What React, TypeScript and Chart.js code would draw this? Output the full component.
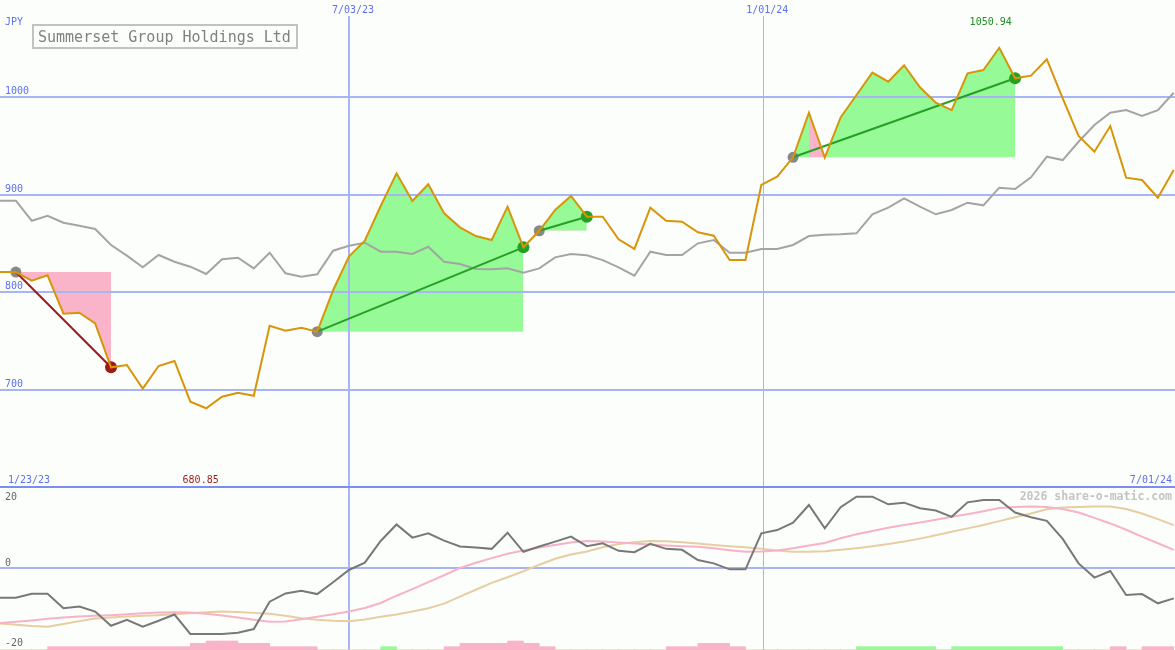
import React, { useEffect, useRef } from 'react';
import { Chart, registerables } from 'chart.js';
Chart.register(...registerables);

// ---------- data (weekly points, index 0 .. 74) ----------
const title = 'Summerset Group Holdings Ltd';
const currency = 'JPY';
const firstDateLabel = '1/23/23';
const lastDateLabel = '7/01/24';

const price = [
  820.7, 820.7, 811.8, 817.3, 778.0, 779.0, 768.0, 722.9, 725.3, 701.0,
  724.2, 729.4, 687.6, 680.85, 692.7, 696.8, 693.7, 765.6, 760.5, 763.6,
  759.5, 802.0, 836.5, 852.9, 888.5, 922.1, 893.6, 910.8, 881.0, 866.6,
  857.7, 853.6, 887.8, 846.1, 863.1, 884.4, 898.8, 877.5, 877.5, 854.3,
  844.4, 886.8, 873.4, 872.4, 861.5, 858.0, 833.1, 833.1, 910.1, 918.6,
  938.5, 984.3, 938.1, 979.5, 1002.5, 1025.4, 1016.1, 1033.0, 1010.4, 994.6,
  987.0, 1024.7, 1028.1, 1050.94, 1019.6, 1022.3, 1039.1, 999.0, 960.4, 944.3,
  970.6, 917.6, 915.2, 897.0, 925.5,
];

const benchmark = [
  894.0, 894.0, 873.4, 878.5, 871.4, 868.3, 864.9, 848.5, 837.5, 825.6,
  838.2, 831.3, 826.2, 818.7, 833.8, 835.4, 824.5, 840.6, 819.4, 815.9,
  818.4, 842.6, 847.7, 850.8, 841.6, 841.6, 839.2, 846.7, 831.3, 829.0,
  823.8, 823.5, 824.5, 820.0, 824.5, 835.8, 839.2, 837.9, 833.0, 825.6,
  816.9, 841.6, 838.2, 838.2, 850.2, 853.6, 840.6, 840.6, 844.4, 844.4,
  848.5, 857.7, 859.0, 859.4, 860.5, 880.0, 886.8, 896.4, 887.8, 880.0,
  884.4, 891.9, 889.2, 907.3, 906.0, 918.0, 939.1, 935.7, 954.5, 971.7,
  984.3, 987.0, 980.9, 987.0, 1004.8,
];

const oscillator = [
  -9.0, -9.0, -7.8, -7.8, -12.2, -11.7, -13.2, -17.5, -15.7, -17.8,
  -16.0, -14.1, -20.0, -20.0, -20.0, -19.6, -18.5, -10.2, -7.7, -6.9,
  -7.9, -4.3, -0.6, 1.6, 8.2, 13.2, 9.2, 10.5, 8.3, 6.5,
  6.2, 5.8, 10.7, 4.9, 6.5, 8.0, 9.5, 6.6, 7.5, 5.2,
  4.8, 7.3, 5.8, 5.5, 2.4, 1.4, -0.4, -0.4, 10.5, 11.5,
  13.7, 19.1, 12.0, 18.4, 21.6, 21.6, 19.3, 19.8, 18.1, 17.4,
  15.5, 19.9, 20.6, 20.6, 16.8, 15.4, 14.3, 8.8, 1.4, -2.9,
  -0.9, -8.2, -7.9, -10.7, -9.2,
];

const oscFast = [
  -16.7, -16.3, -15.9, -15.4, -15.0, -14.7, -14.5, -14.3, -14.0, -13.7,
  -13.5, -13.4, -13.5, -13.9, -14.4, -15.0, -15.7, -16.3, -16.2, -15.5,
  -14.8, -14.0, -13.2, -12.1, -10.6, -8.4, -6.4, -4.3, -2.2, 0.0,
  1.6, 3.0, 4.3, 5.3, 6.2, 7.0, 7.7, 8.2, 8.0, 7.7,
  7.4, 7.1, 6.8, 6.6, 6.4, 6.0, 5.4, 4.9, 5.0, 5.3,
  6.0, 6.8, 7.6, 9.0, 10.2, 11.2, 12.2, 13.0, 13.8, 14.6,
  15.5, 16.3, 17.2, 18.2, 18.5, 18.6, 18.5, 17.9, 16.8, 15.2,
  13.5, 11.6, 9.5, 7.5, 5.5,
];

const oscSlow = [
  -16.8, -17.2, -17.6, -17.8, -17.0, -16.1, -15.3, -15.0, -14.7, -14.5,
  -14.3, -14.0, -13.7, -13.4, -13.2, -13.3, -13.6, -13.9, -14.5, -15.2,
  -15.7, -16.0, -16.1, -15.6, -14.8, -14.1, -13.2, -12.2, -10.8, -8.7,
  -6.6, -4.5, -2.8, -1.0, 1.0, 2.8, 4.1, 5.0, 6.3, 7.3,
  7.8, 8.2, 8.1, 7.8, 7.4, 7.0, 6.6, 6.3, 5.8, 5.3,
  4.9, 4.9, 5.1, 5.5, 6.0, 6.6, 7.3, 8.0, 8.9, 9.9,
  11.0, 12.0, 13.0, 14.2, 15.4, 16.5, 17.8, 18.3, 18.5, 18.6,
  18.6, 17.9, 16.5, 14.8, 13.0,
];

// histogram at the foot of the lower panel (one bar per week, 0..73)
const barsLoss = [
  0, 0, 0, 1, 1, 1, 1, 1, 1, 1,
  1, 1, 2, 2.7, 2.7, 2, 2, 1, 1, 1,
  0, 0, 0, 0, 0, 0, 0, 0, 1, 2,
  2, 2, 2.7, 2, 1, 0, 0, 0, 0, 0,
  0, 0, 1, 1, 2, 2, 1, 0, 0, 0,
  0, 0, 0, 0, 0, 0, 0, 0, 0, 0,
  0, 0, 0, 0, 0, 0, 0, 0, 0, 0,
  1, 0, 1, 1,
];
const barsGain = [
  0, 0, 0, 0, 0, 0, 0, 0, 0, 0,
  0, 0, 0, 0, 0, 0, 0, 0, 0, 0,
  0, 0, 0, 0, 1, 0, 0, 0, 0, 0,
  0, 0, 0, 0, 0, 0, 0, 0, 0, 0,
  0, 0, 0, 0, 0, 0, 0, 0, 0, 0,
  0, 0, 0, 0, 1, 1, 1, 1, 1, 0,
  1, 1, 1, 1, 1, 1, 1, 0, 0, 0,
  0, 0, 0, 0,
];

const priceTicks = [1000, 900, 800, 700];
const oscTicks = [20, 0, -20];
const dateLines = [
  { at: 22, label: '7/03/23', major: true },
  { at: 48.12, label: '1/01/24', major: false },
];
const trades = [
  { entry: 1, exit: 7 },
  { entry: 20, exit: 33 },
  { entry: 34, exit: 37 },
  { entry: 50, exit: 64 },
];
const patchSegment = [51, 52]; // segment drawn as loss inside the last trade

// ---------- styles ----------
const W = 1175;
const TOP_H = 488;
const BOT_H = 162;
const BG = '#fcfefc';
const GRID = '#a6b5f3';
const SEP = '#7b8df0';
const AXIS_TXT = '#5c70f0';
const ORANGE = '#d8950a';
const GREY = '#a4a4a4';
const GREEN_FILL = '#96fa96';
const PINK_FILL = '#fab4c9';
const RED_LINE = '#9c1a1a';
const GREEN_LINE = '#25a025';
const CIRCLE = '#888888';
const OSC = '#787878';
const OSC_FAST = '#f8b2c6';
const OSC_SLOW = '#e6cea0';
const MONO = '"DejaVu Sans Mono", "Liberation Mono", monospace';

const pts = (arr: number[], from = 0, to = arr.length - 1) => {
  const out: { x: number; y: number }[] = [];
  for (let i = from; i <= to; i++) out.push({ x: i, y: arr[i] });
  return out;
};

function argMin(a: number[]) { let k = 0; a.forEach((v, i) => { if (v < a[k]) k = i; }); return k; }
function argMax(a: number[]) { let k = 0; a.forEach((v, i) => { if (v > a[k]) k = i; }); return k; }

const topPlugin = {
  id: 'topDeco',
  beforeDatasetDraw(chart: any, args: any) {
    const ds = chart.data.datasets[args.index];
    if (ds.label !== 'benchmark') return;
    const { ctx } = chart;
    const x = chart.scales.x;
    const y = chart.scales.y;
    ctx.save();
    ctx.strokeStyle = GRID;
    ctx.lineWidth = 2;
    priceTicks.forEach((v) => {
      const py = Math.round(y.getPixelForValue(v));
      ctx.beginPath(); ctx.moveTo(0, py); ctx.lineTo(W, py); ctx.stroke();
    });
    dateLines.forEach((d) => {
      const px = x.getPixelForValue(d.at);
      ctx.lineWidth = d.major ? 2 : 1;
      const xx = d.major ? Math.round(px) : Math.round(px) + 0.5;
      ctx.beginPath(); ctx.moveTo(xx, 16); ctx.lineTo(xx, TOP_H); ctx.stroke();
    });
    ctx.restore();
  },
  afterDatasetsDraw(chart: any) {
    const { ctx } = chart;
    const x = chart.scales.x;
    const y = chart.scales.y;
    ctx.save();
    // separator between panels
    ctx.strokeStyle = SEP; ctx.lineWidth = 2;
    ctx.beginPath(); ctx.moveTo(0, TOP_H - 1); ctx.lineTo(W, TOP_H - 1); ctx.stroke();

    ctx.font = `10px ${MONO}`;
    ctx.fillStyle = AXIS_TXT;
    ctx.textBaseline = 'alphabetic';
    ctx.textAlign = 'left';
    ctx.fillText(currency, 5, 25);
    priceTicks.forEach((v) => {
      const py = Math.round(y.getPixelForValue(v));
      ctx.fillText(String(v), 5, py - 3);
    });
    dateLines.forEach((d) => {
      ctx.fillText(d.label, x.getPixelForValue(d.at) - 17, 13);
    });
    ctx.fillText(firstDateLabel, 8, 483);
    ctx.textAlign = 'right';
    ctx.fillText(lastDateLabel, 1172, 483);
    const iMin = argMin(price);
    const iMax = argMax(price);
    ctx.fillStyle = '#9c1a1a';
    ctx.fillText(price[iMin].toFixed(2), x.getPixelForValue(iMin) + 12.5, 483);
    ctx.fillStyle = '#1f8f1f';
    ctx.fillText(price[iMax].toFixed(2), x.getPixelForValue(iMax) + 12.5, 25);

    // title box
    ctx.fillStyle = BG;
    ctx.fillRect(33, 25, 264, 23);
    ctx.strokeStyle = '#c2c2c2'; ctx.lineWidth = 2;
    ctx.strokeRect(33, 25, 264, 23);
    ctx.fillStyle = '#808080';
    ctx.font = `15px ${MONO}`;
    ctx.textAlign = 'left';
    ctx.fillText(title, 38, 42);
    ctx.restore();
  },
};

const botPlugin = {
  id: 'botDeco',
  beforeDatasetsDraw(chart: any) {
    const { ctx } = chart;
    const x = chart.scales.x;
    const y = chart.scales.y;
    ctx.save();
    ctx.strokeStyle = GRID;
    ctx.lineWidth = 2;
    const py = Math.round(y.getPixelForValue(0));
    ctx.beginPath(); ctx.moveTo(0, py); ctx.lineTo(W, py); ctx.stroke();
    dateLines.forEach((d) => {
      const px = x.getPixelForValue(d.at);
      ctx.lineWidth = d.major ? 2 : 1;
      const xx = d.major ? Math.round(px) : Math.round(px) + 0.5;
      ctx.beginPath(); ctx.moveTo(xx, 0); ctx.lineTo(xx, BOT_H); ctx.stroke();
    });
    ctx.restore();
  },
  afterDatasetsDraw(chart: any) {
    const { ctx } = chart;
    const y = chart.scales.y;
    ctx.save();
    ctx.font = `10px ${MONO}`;
    ctx.fillStyle = '#666666';
    ctx.textAlign = 'left';
    oscTicks.forEach((v) => {
      const py = Math.round(y.getPixelForValue(v));
      ctx.fillText(String(v), 5, v < 0 ? py + 12 : py - 2);
    });
    ctx.font = `bold 11.5px ${MONO}`;
    ctx.fillStyle = '#c4c4c4';
    ctx.textAlign = 'right';
    ctx.fillText('2026 share-o-matic.com', 1172, 12);
    ctx.restore();
  },
};

function topConfig(): any {
  const datasets: any[] = [];
  trades.forEach((t) => {
    datasets.push({
      label: 'fill', data: pts(price, t.entry, t.exit), borderWidth: 0, pointRadius: 0,
      fill: { value: price[t.entry], above: GREEN_FILL, below: PINK_FILL },
      backgroundColor: GREEN_FILL, order: 20,
    });
  });
  const lastTrade = trades[trades.length - 1];
  datasets.push({
    label: 'patch', data: pts(price, patchSegment[0], patchSegment[1]), borderWidth: 0, pointRadius: 0,
    fill: { value: price[lastTrade.entry] }, backgroundColor: PINK_FILL, order: 19,
  });
  datasets.push({
    label: 'benchmark', data: pts(benchmark), borderColor: GREY, borderWidth: 2, pointRadius: 0, fill: false, order: 10,
  });
  datasets.push({
    label: 'entries', data: trades.map((t) => ({ x: t.entry, y: price[t.entry] })), showLine: false,
    pointRadius: 5.5, pointBackgroundColor: CIRCLE, pointBorderWidth: 0, order: 8,
  });
  datasets.push({
    label: 'exits', data: trades.map((t) => ({ x: t.exit, y: price[t.exit] })), showLine: false,
    pointRadius: 6, pointBorderWidth: 0,
    pointBackgroundColor: trades.map((t) => (price[t.exit] > price[t.entry] ? GREEN_LINE : RED_LINE)), order: 7,
  });
  trades.forEach((t) => {
    datasets.push({
      label: 'trade', data: [{ x: t.entry, y: price[t.entry] }, { x: t.exit, y: price[t.exit] }],
      borderColor: price[t.exit] > price[t.entry] ? GREEN_LINE : RED_LINE, borderWidth: 2, pointRadius: 0, fill: false, order: 5,
    });
  });
  datasets.push({
    label: 'price', data: pts(price), borderColor: ORANGE, borderWidth: 2, pointRadius: 0, fill: false, order: 1,
  });
  return {
    type: 'line',
    data: { datasets },
    options: {
      animation: false, responsive: false, maintainAspectRatio: false, events: [],
      layout: { padding: 0, autoPadding: false },
      elements: { line: { tension: 0 } },
      plugins: { legend: { display: false }, tooltip: { enabled: false }, filler: { propagate: false } },
      scales: {
        x: { type: 'linear', min: 0, max: 74.08, display: false, offset: false },
        y: { type: 'linear', min: 599, max: 1100, display: false },
      },
    },
    plugins: [topPlugin],
  };
}

function botConfig(): any {
  const barPts = (arr: number[]) => arr.map((v, i) => ({ x: i + 0.5, y: v }));
  return {
    type: 'line',
    data: {
      datasets: [
        { type: 'bar', label: 'loss', data: barPts(barsLoss), backgroundColor: PINK_FILL, borderWidth: 0,
          barPercentage: 1, categoryPercentage: 1, grouped: false, yAxisID: 'yb', order: 20 },
        { type: 'bar', label: 'gain', data: barPts(barsGain), backgroundColor: GREEN_FILL, borderWidth: 0,
          barPercentage: 1, categoryPercentage: 1, grouped: false, yAxisID: 'yb', order: 20 },
        { label: 'slow', data: pts(oscSlow), borderColor: OSC_SLOW, borderWidth: 2, pointRadius: 0, fill: false, order: 4 },
        { label: 'fast', data: pts(oscFast), borderColor: OSC_FAST, borderWidth: 2, pointRadius: 0, fill: false, order: 3 },
        { label: 'osc', data: pts(oscillator), borderColor: OSC, borderWidth: 2, pointRadius: 0, fill: false, order: 1 },
      ],
    },
    options: {
      animation: false, responsive: false, maintainAspectRatio: false, events: [],
      layout: { padding: 0, autoPadding: false },
      elements: { line: { tension: 0 } },
      plugins: { legend: { display: false }, tooltip: { enabled: false } },
      scales: {
        x: { type: 'linear', min: 0, max: 74.08, display: false, offset: false },
        y: { type: 'linear', min: -24.85, max: 24.24, display: false },
        yb: { type: 'linear', min: 0, max: 48.6, display: false },
      },
    },
    plugins: [botPlugin],
  };
}

export default function App() {
  const topRef = useRef<HTMLCanvasElement>(null);
  const botRef = useRef<HTMLCanvasElement>(null);
  useEffect(() => {
    const c1 = new Chart(topRef.current as HTMLCanvasElement, topConfig());
    const c2 = new Chart(botRef.current as HTMLCanvasElement, botConfig());
    return () => { c1.destroy(); c2.destroy(); };
  }, []);
  return (
    <div style={{ position: 'absolute', left: 0, top: 0, width: W, height: 650, background: BG, overflow: 'hidden' }}>
      <canvas ref={topRef} width={W} height={TOP_H}
        style={{ position: 'absolute', left: 0, top: 0, width: W, height: TOP_H }} />
      <canvas ref={botRef} width={W} height={BOT_H}
        style={{ position: 'absolute', left: 0, top: TOP_H, width: W, height: BOT_H }} />
    </div>
  );
}
